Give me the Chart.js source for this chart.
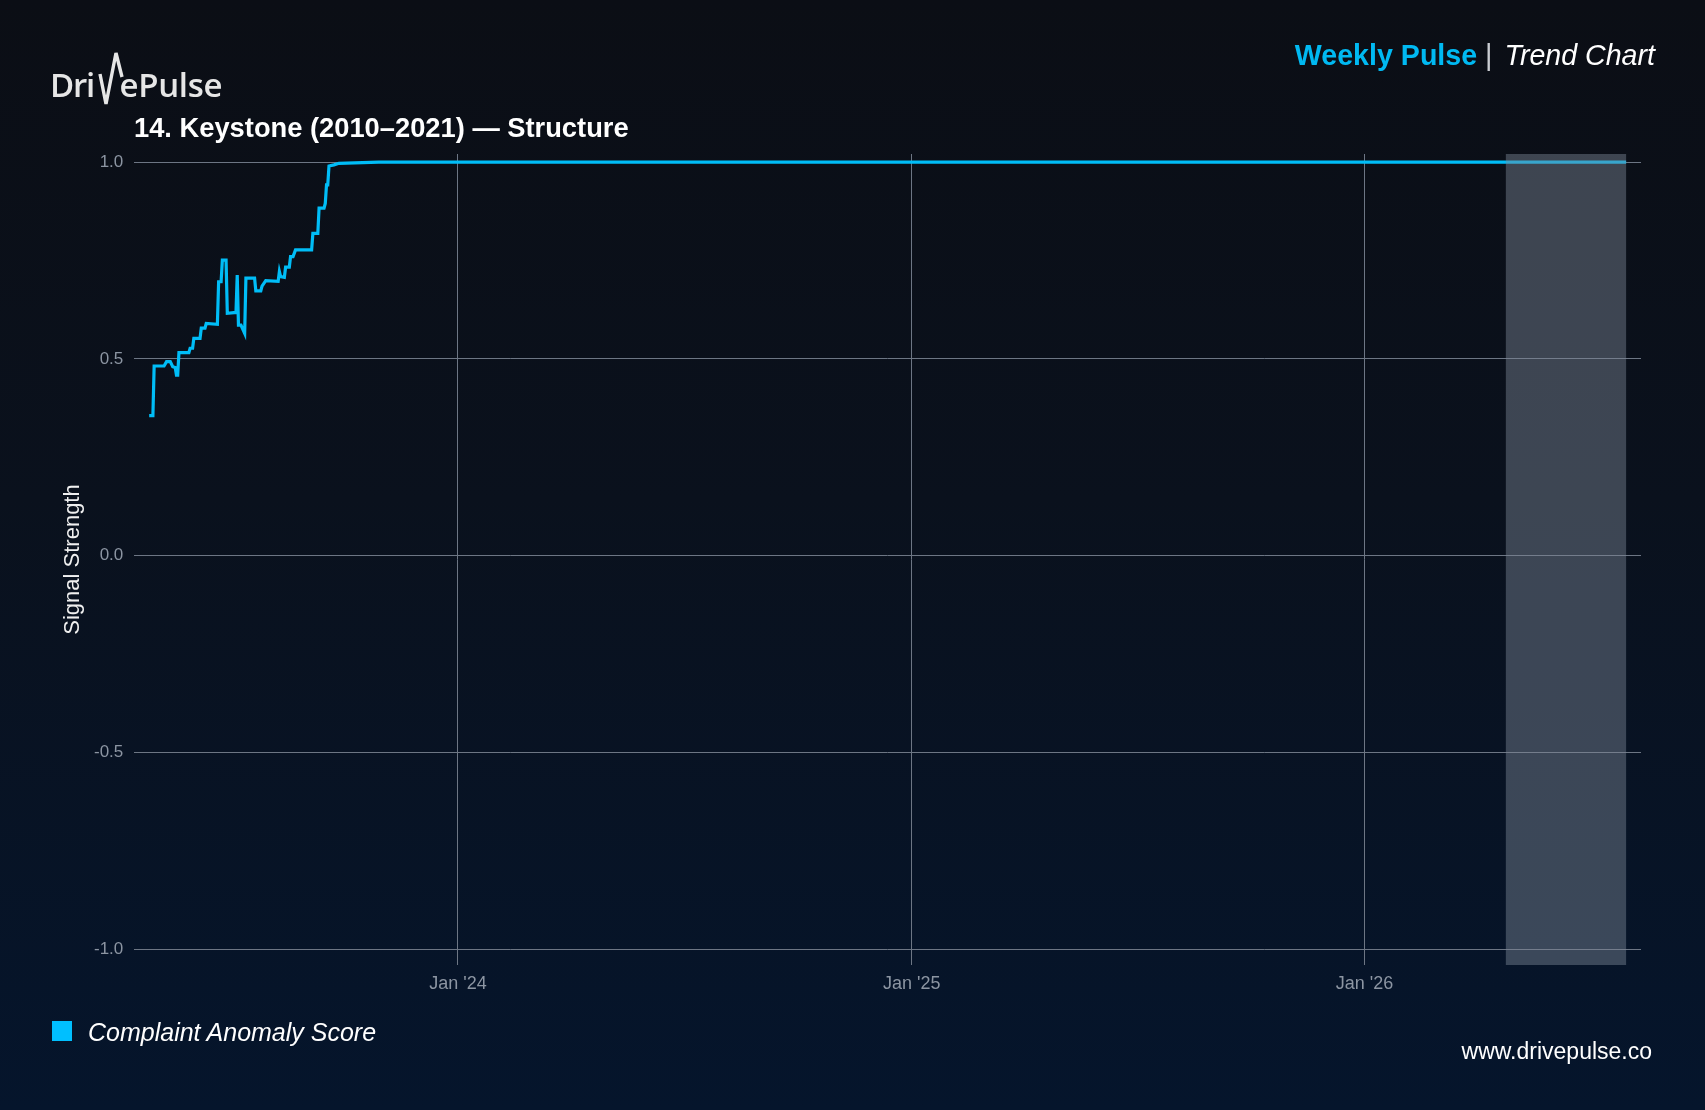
<!DOCTYPE html>
<html>
<head>
<meta charset="utf-8">
<script src="https://cdn.jsdelivr.net/npm/chart.js@4.4.1/dist/chart.umd.min.js"></script>
<style>
  html, body { margin:0; padding:0; }
  body { width:1705px; height:1110px; overflow:hidden; position:relative;
         background: linear-gradient(180deg, #0b0e15 0%, #0a111d 45%, #05152c 100%);
         font-family: "Liberation Sans", Arial, sans-serif; }
  #c { position:absolute; left:0; top:0; }
  .abs { position:absolute; white-space:nowrap; }
  #logo-a, #logo-b { font-family:"Open Sans", sans-serif; font-weight:600; font-size:33px; line-height:33px; color:#e6e6e6; top:68px; }
  #logo-a { letter-spacing:-1.2px; }
  #logo-b { letter-spacing:-0.3px; }
  #title { left:134px; top:114px; font-size:27.3px; line-height:27.3px; font-weight:bold; color:#ffffff; }
  #hdr { right:50px; top:41px; font-size:28.6px; line-height:28.6px; }
  #hdr .a { color:#00b9f2; font-weight:bold; }
  #hdr .sep { color:#c9ccd1; margin:0 12px 0 8px; font-weight:normal; }
  #hdr .b { color:#ffffff; font-style:italic; }
  #legend { left:52px; top:1020px; font-size:25px; line-height:25px; color:#ffffff; font-style:italic; }
  #legend .sw { position:absolute; left:0; top:1px; width:20px; height:20px; background:#00bfff; }
  #legend .tx { position:absolute; left:36px; top:0; }
  #url { right:53px; top:1040px; font-size:23px; line-height:23px; color:#ffffff; }
</style>
</head>
<body>
<canvas id="c" width="1705" height="1110"></canvas>
<div class="abs" id="logo-a" style="left:50px;">Dri</div>
<svg class="abs" style="left:0;top:0;" width="300" height="130">
  <polyline points="100,74 106,104 116,53 122,77" fill="none" stroke="#e6e6e6" stroke-width="3.4" stroke-linejoin="miter"/>
</svg>
<div class="abs" id="logo-b" style="left:119.5px;">ePulse</div>
<div class="abs" id="title"></div>
<div class="abs" id="hdr"><span class="a">Weekly Pulse</span><span class="sep">|</span><span class="b">Trend Chart</span></div>
<div class="abs" id="legend"><div class="sw"></div><div class="tx"></div></div>
<div class="abs" id="url">www.drivepulse.co</div>
<script>
// ---- data ----
const chartTitle = "14. Keystone (2010\u20132021) \u2014 Structure";
const seriesName = "Complaint Anomaly Score";
const yAxisTitle = "Signal Strength";

const dates = [
  "2023-04-27","2023-04-30","2023-05-01","2023-05-09","2023-05-11","2023-05-14",
  "2023-05-16","2023-05-18","2023-05-19","2023-05-20","2023-05-21","2023-05-29",
  "2023-05-30","2023-06-01","2023-06-02","2023-06-07","2023-06-08","2023-06-11",
  "2023-06-12","2023-06-21","2023-06-22","2023-06-24","2023-06-25","2023-06-28",
  "2023-06-29","2023-07-06","2023-07-07","2023-07-08","2023-07-10","2023-07-13",
  "2023-07-14","2023-07-21","2023-07-22","2023-07-26","2023-07-27","2023-07-30",
  "2023-08-09","2023-08-10","2023-08-11","2023-08-14","2023-08-15","2023-08-18",
  "2023-08-19","2023-08-21","2023-08-23","2023-09-05","2023-09-06","2023-09-10",
  "2023-09-11","2023-09-15","2023-09-16","2023-09-17","2023-09-18","2023-09-19",
  "2023-09-23","2023-09-27","2023-10-29","2024-06-01","2025-01-01","2025-09-01",
  "2026-04-01","2026-07-31"
];
const values = [
  0.356,0.356,0.482,0.482,0.493,0.493,
  0.480,0.478,0.459,0.459,0.516,0.516,
  0.527,0.527,0.552,0.552,0.578,0.578,
  0.590,0.588,0.696,0.696,0.751,0.751,
  0.616,0.618,0.713,0.586,0.586,0.565,
  0.705,0.705,0.673,0.673,0.685,0.699,
  0.697,0.722,0.709,0.707,0.733,0.733,
  0.760,0.760,0.777,0.777,0.819,0.819,
  0.883,0.883,0.895,0.942,0.942,0.990,
  0.993,0.997,1.000,1.000,1.000,1.000,
  1.000,1.000
];
const xRange = ["2023-04-15", "2026-08-12"];
const yRange = [-1.04, 1.0206];
const xTickDates = ["2024-01-01", "2025-01-01", "2026-01-01"];
const xTickLabels = ["Jan '24", "Jan '25", "Jan '26"];
const yTickValues = [-1.0, -0.5, 0.0, 0.5, 1.0];
const shadeRange = ["2026-04-25", "2026-07-31"];

// ---- page text ----
document.getElementById('title').textContent = chartTitle;
document.querySelector('#legend .tx').textContent = seriesName;

const shadePlugin = {
  id: 'shade',
  afterDatasetsDraw(chart) {
    const {ctx, chartArea, scales} = chart;
    const x0 = scales.x.getPixelForValue(Date.parse(shadeRange[0]));
    const x1 = scales.x.getPixelForValue(Date.parse(shadeRange[1]));
    ctx.save();
    ctx.fillStyle = 'rgba(125,136,150,0.45)';
    ctx.fillRect(x0, chartArea.top, x1 - x0, chartArea.bottom - chartArea.top);
    ctx.restore();
  }
};

const gridColor = '#6d7684';
const tickColor = '#8c95a2';

new Chart(document.getElementById('c'), {
  type: 'line',
  data: {
    datasets: [{
      label: seriesName,
      data: dates.map((d, i) => ({x: Date.parse(d), y: values[i]})),
      borderColor: '#00bdf7',
      borderWidth: 3.2,
      pointRadius: 0,
      tension: 0,
      fill: false
    }]
  },
  options: {
    responsive: false,
    animation: false,
    devicePixelRatio: 1,
    layout: { padding: { left: 40, right: 64, top: 154, bottom: 105 } },
    plugins: { legend: { display: false }, tooltip: { enabled: false } },
    scales: {
      x: {
        type: 'linear',
        min: Date.parse(xRange[0]),
        max: Date.parse(xRange[1]),
        afterBuildTicks: s => { s.ticks = xTickDates.map(d => ({value: Date.parse(d)})); },
        afterFit: s => { s.height = 40; },
        ticks: {
          callback: (v, i) => xTickLabels[i],
          color: tickColor,
          font: { family: 'Liberation Sans', size: 18 },
          padding: 8, maxRotation: 0, autoSkip: false
        },
        grid: { color: gridColor, lineWidth: 1, drawTicks: false },
        border: { display: false }
      },
      y: {
        type: 'linear',
        min: yRange[0],
        max: yRange[1],
        afterBuildTicks: s => { s.ticks = yTickValues.map(v => ({value: v})); },
        afterFit: s => { s.width = 94.3; },
        ticks: {
          callback: v => Number(v).toFixed(1),
          color: tickColor,
          font: { family: 'Liberation Sans', size: 17 },
          padding: 11
        },
        title: {
          display: true, text: yAxisTitle, color: '#f0f0f0',
          font: { family: 'Liberation Sans', size: 22 },
          padding: { top: 20, bottom: 0 }
        },
        grid: { color: gridColor, lineWidth: 1, drawTicks: false },
        border: { display: false }
      }
    }
  },
  plugins: [shadePlugin]
});
</script>
</body>
</html>
